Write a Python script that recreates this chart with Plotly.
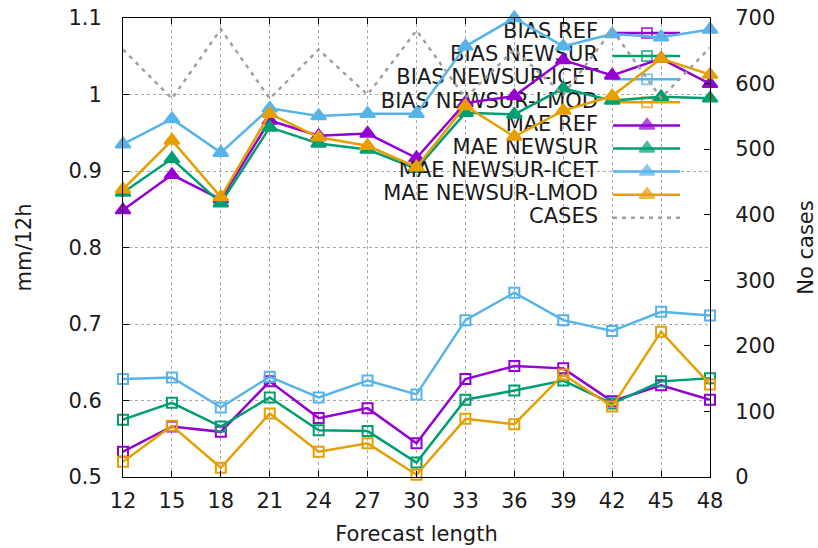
import plotly.graph_objects as go

# forecast lengths (h)
lead = [12, 15, 18, 21, 24, 27, 30, 33, 36, 39, 42, 45, 48]

bias_ref = [0.533, 0.566, 0.559, 0.625, 0.577, 0.590, 0.544, 0.628, 0.645, 0.642, 0.599, 0.620, 0.601]
bias_newsur = [0.575, 0.597, 0.566, 0.604, 0.561, 0.560, 0.519, 0.601, 0.613, 0.626, 0.596, 0.625, 0.629]
bias_icet = [0.628, 0.630, 0.591, 0.631, 0.604, 0.626, 0.608, 0.705, 0.741, 0.705, 0.691, 0.716, 0.711]
bias_lmod = [0.520, 0.567, 0.512, 0.583, 0.533, 0.544, 0.503, 0.576, 0.569, 0.634, 0.592, 0.690, 0.621]

mae_ref = [0.849, 0.895, 0.863, 0.966, 0.946, 0.949, 0.917, 0.989, 0.998, 1.045, 1.025, 1.047, 1.014]
mae_newsur = [0.872, 0.916, 0.858, 0.957, 0.936, 0.928, 0.903, 0.976, 0.974, 1.008, 0.992, 0.997, 0.995]
mae_icet = [0.935, 0.968, 0.924, 0.982, 0.972, 0.975, 0.975, 1.063, 1.100, 1.063, 1.079, 1.075, 1.085]
mae_lmod = [0.876, 0.940, 0.866, 0.975, 0.944, 0.933, 0.905, 0.985, 0.945, 0.979, 0.998, 1.047, 1.026]

cases = [652, 577, 683, 577, 652, 583, 681, 578, 652, 583, 682, 578, 655]

y_ticks = [0.5, 0.6, 0.7, 0.8, 0.9, 1.0, 1.1]
y_ticktext = ['0.5', '0.6', '0.7', '0.8', '0.9', '1', '1.1']
y2_ticks = [0, 100, 200, 300, 400, 500, 600, 700]

PURPLE, GREEN, BLUE, ORANGE, GREY = '#9400d3', '#009e73', '#56b4e9', '#e69f00', '#a0a0a0'
FONT = 'DejaVu Sans'
FS = 21
TXT = '#1a1a1a'

series = [
    ('BIAS REF', bias_ref, PURPLE, 'square-open'),
    ('BIAS NEWSUR', bias_newsur, GREEN, 'square-open'),
    ('BIAS NEWSUR-ICET', bias_icet, BLUE, 'square-open'),
    ('BIAS NEWSUR-LMOD', bias_lmod, ORANGE, 'square-open'),
    ('MAE REF', mae_ref, PURPLE, 'triangle-up'),
    ('MAE NEWSUR', mae_newsur, GREEN, 'triangle-up'),
    ('MAE NEWSUR-ICET', mae_icet, BLUE, 'triangle-up'),
    ('MAE NEWSUR-LMOD', mae_lmod, ORANGE, 'triangle-up'),
]

# plot box in pixels (818x548 page)
W, H = 818, 548
L, R, T, B = 123, 710, 18, 477
XR, YR = (12, 48), (0.5, 1.1)


def px_x(px):
    return XR[0] + (px - L) / (R - L) * (XR[1] - XR[0])


def px_y(py):
    return YR[1] - (py - T) / (B - T) * (YR[1] - YR[0])


# gnuplot-style key: text right aligned, sample to the right
key_text_x = px_x(598)
key_x0, key_xm, key_x1 = px_x(613), px_x(647), px_x(680)
key_row0, key_step = 33, 23.1

fig = go.Figure()


def key_entry(i, name, color, symbol, dash=None):
    ky = px_y(key_row0 + i * key_step)
    fig.add_trace(go.Scatter(
        x=[key_text_x], y=[ky], mode='text', text=[name], textposition='middle left',
        textfont=dict(family=FONT, size=FS, color=TXT),
        showlegend=False, hoverinfo='skip', cliponaxis=False))
    fig.add_trace(go.Scatter(
        x=[key_x0, key_xm, key_x1], y=[ky, ky, ky],
        mode='lines+markers' if symbol else 'lines',
        line=dict(color=color, width=2.5, dash=dash),
        marker=dict(symbol=symbol or 'circle', size=[0, 10 if 'square' in (symbol or '') else 13, 0],
                    color=color, line=dict(color=color, width=2)),
        showlegend=False, hoverinfo='skip', cliponaxis=False))


for i, (name, vals, color, symbol) in enumerate(series):
    key_entry(i, name, color, symbol)
    fig.add_trace(go.Scatter(
        x=lead, y=vals, name=name, mode='lines+markers',
        line=dict(color=color, width=2.5),
        marker=dict(symbol=symbol, size=10 if symbol == 'square-open' else 13,
                    color=color, line=dict(color=color, width=2)),
        showlegend=False, cliponaxis=False))

key_entry(len(series), 'CASES', GREY, None, dash='4px,5px')
fig.add_trace(go.Scatter(
    x=lead, y=cases, name='CASES', mode='lines', yaxis='y2',
    line=dict(color=GREY, width=2.5, dash='4px,5px'),
    showlegend=False, cliponaxis=False))

# opaque key box hides the grid but not the curves
fig.add_shape(type='rect', xref='paper', yref='paper', layer='between',
              x0=(364 - L) / (R - L), x1=1, y0=(B - 232) / (B - T), y1=1,
              fillcolor='white', line=dict(width=0))

tick_font = dict(family=FONT, size=FS, color=TXT)
grid = dict(showgrid=True, gridcolor='#a8a8a8', gridwidth=1, griddash='dot')

fig.update_layout(
    width=W, height=H,
    margin=dict(l=L, r=W - R, t=T, b=H - B, autoexpand=False),
    paper_bgcolor='white', plot_bgcolor='white',
    font=dict(family=FONT, size=FS, color=TXT),
    showlegend=False,
    xaxis=dict(range=list(XR), tickvals=lead, ticks='inside', ticklen=6, tickcolor='black',
               showline=True, linecolor='black', linewidth=1, mirror='ticks',
               zeroline=False, tickfont=tick_font, ticklabelstandoff=5, automargin=False,
               title=dict(text='Forecast length', standoff=14, font=tick_font), **grid),
    yaxis=dict(range=list(YR), tickvals=y_ticks, ticktext=y_ticktext, ticks='inside', ticklen=6,
               tickcolor='black', showline=True, linecolor='black', linewidth=1,
               zeroline=False, tickfont=tick_font, ticklabelstandoff=16, automargin=False,
               title=dict(text='mm/12h', standoff=31, font=tick_font), **grid),
    yaxis2=dict(range=[0, 700], tickvals=y2_ticks, overlaying='y', side='right',
                ticks='inside', ticklen=6, tickcolor='black', showline=True,
                linecolor='black', linewidth=1, showgrid=False, zeroline=False,
                tickfont=tick_font, ticklabelstandoff=20, automargin=False,
                title=dict(text='No cases', standoff=24, font=tick_font)),
)

# page body margin would shift the whole figure by 8px
fig.write_html('out.html', config={'displayModeBar': False},
               post_script="document.body.style.margin='0px';")
